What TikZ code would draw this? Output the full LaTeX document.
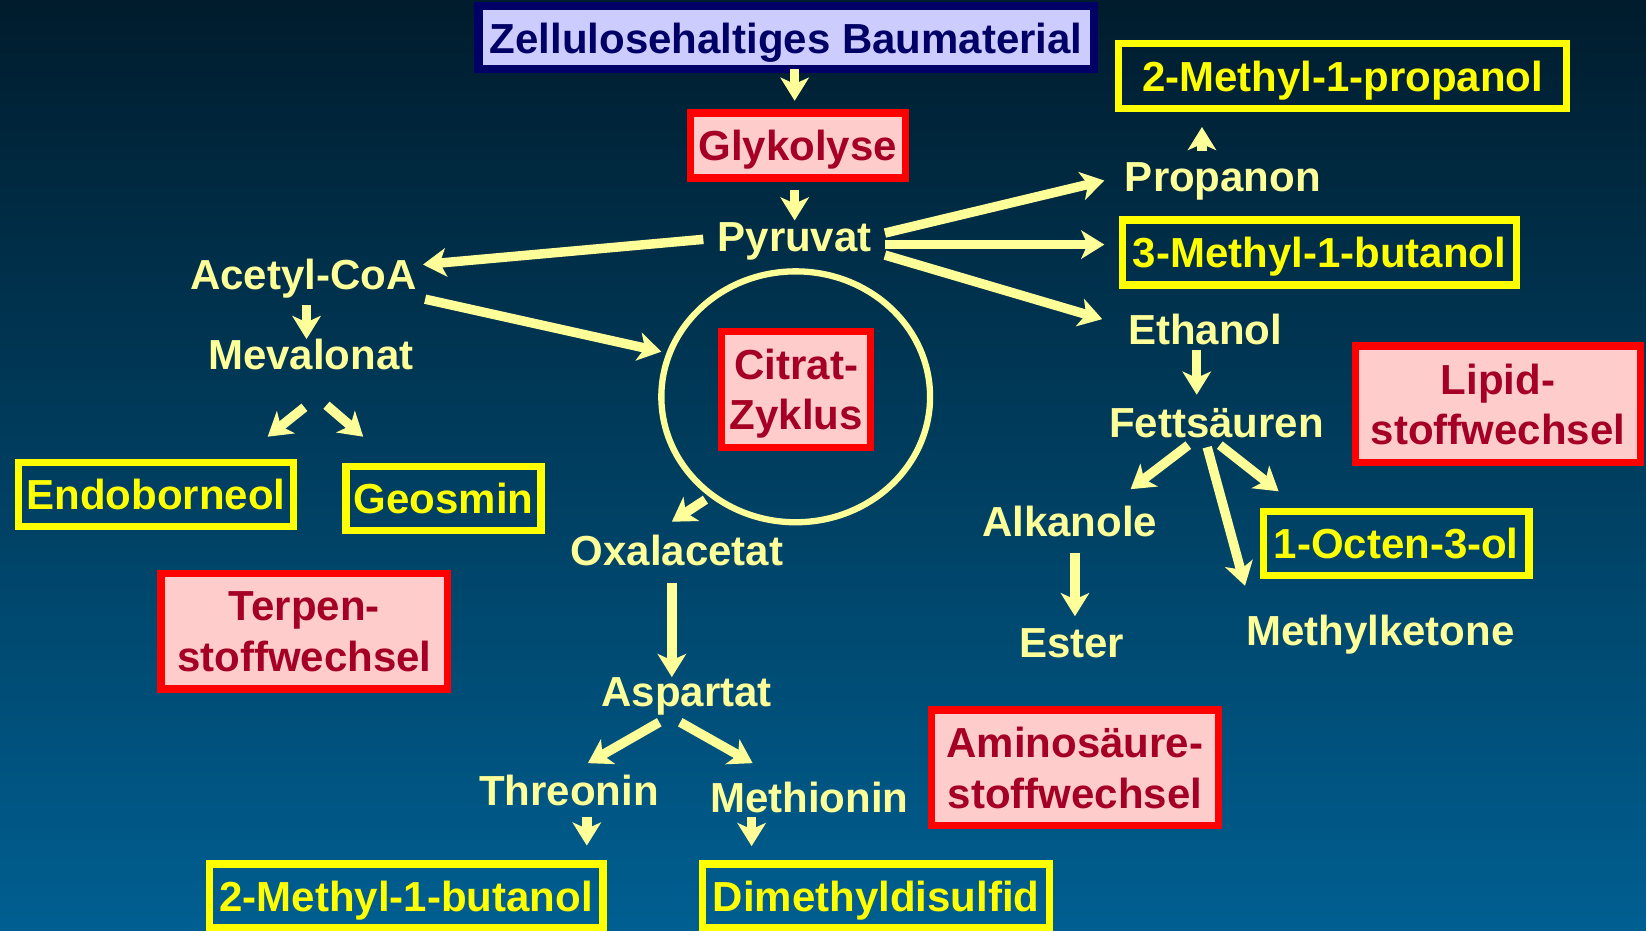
\documentclass[tikz,border=0pt]{standalone}
\usepackage{fontspec}
\setmainfont{Liberation Sans}
\usetikzlibrary{arrows.meta,shapes.geometric}
\definecolor{bgtop}{RGB}{0,28,45}
\definecolor{bgbot}{RGB}{0,95,145}
\definecolor{paley}{RGB}{255,255,153}
\definecolor{yel}{RGB}{255,255,0}
\definecolor{redb}{RGB}{255,0,0}
\definecolor{pinkf}{RGB}{255,204,204}
\definecolor{redt}{RGB}{165,0,35}
\definecolor{navy}{RGB}{0,0,102}
\definecolor{lav}{RGB}{204,204,255}
\begin{document}
\begin{tikzpicture}[x=1pt,y=-1pt,
  every node/.style={font=\fontsize{40}{48}\selectfont\bfseries, inner sep=0pt, outer sep=0pt},
  lbl/.style={text=paley, anchor=base, text height=30pt, text depth=8pt},
  one/.style={text height=29pt, text depth=0pt},
  ybox/.style={draw=yel, line width=7pt, text=yel, align=center},
  rbox/.style={draw=redb, fill=pinkf, line width=7pt, text=redt, align=center, text depth=0pt},
  nbox/.style={draw=navy, fill=lav, line width=8pt, text=navy},
  arr/.style={draw=paley, line width=9pt, -{Stealth[length=22pt,width=27pt,inset=6pt]}},
]
\shade[top color=bgtop, bottom color=bgbot] (0,0) rectangle (1568,886);
\useasboundingbox (0,0) rectangle (1568,886);

\node[nbox, one, minimum width=586pt, minimum height=60pt] (zell) at (749,36) {Zellulosehaltiges Baumaterial};
\node[rbox, one, minimum width=205pt, minimum height=62pt] (gly) at (760,138.5) {Glykolyse};
\node[lbl] (pyr) at (757,240) {Pyruvat};
\node[lbl] (acoa) at (289,276) {Acetyl-CoA};
\node[lbl] (meva) at (296,352) {Mevalonat};
\node[ybox, one, minimum width=262pt, minimum height=61pt] (endo) at (148.5,471) {Endoborneol};
\node[ybox, one, minimum width=186pt, minimum height=61pt] (geos) at (422.5,475) {Geosmin};
\node[rbox, minimum width=273pt, minimum height=110pt] (terp) at (290,601.5) {Terpen-\\stoffwechsel};
\node[draw=paley, line width=6pt, ellipse, minimum width=256pt, minimum height=239pt] (cyc) at (758,378) {};
\node[rbox, minimum width=142pt, minimum height=111pt] (citr) at (758.5,371) {Citrat-\\Zyklus};
\node[lbl] (oxa) at (645,539) {Oxalacetat};
\node[lbl] (asp) at (654,673) {Aspartat};
\node[lbl] (thr) at (542,767) {Threonin};
\node[lbl] (met) at (771,774) {Methionin};
\node[ybox, one, minimum width=375pt, minimum height=61pt] (mbb) at (387,853.5) {2-Methyl-1-butanol};
\node[ybox, one, minimum width=330pt, minimum height=61pt] (dmds) at (834.5,853.5) {Dimethyldisulfid};
\node[rbox, minimum width=273pt, minimum height=110pt] (amin) at (1024,731.5) {Aminosäure-\\stoffwechsel};
\node[ybox, one, minimum width=427pt, minimum height=62pt] (mpp) at (1279,72.5) {2-Methyl-1-propanol};
\node[lbl] (prop) at (1165,182) {Propanon};
\node[ybox, one, minimum width=375pt, minimum height=62pt] (mbt) at (1257,240.5) {3-Methyl-1-butanol};
\node[lbl] (eth) at (1148,328) {Ethanol};
\node[lbl] (fett) at (1159,417) {Fettsäuren};
\node[rbox, minimum width=271pt, minimum height=111pt] (lip) at (1427,385) {Lipid-\\stoffwechsel};
\node[lbl] (alk) at (1019,511) {Alkanole};
\node[ybox, one, minimum width=253pt, minimum height=61pt] (oct) at (1330,518) {1-Octen-3-ol};
\node[lbl] (est) at (1021,626) {Ester};
\node[lbl] (mk) at (1315,615) {Methylketone};

\draw[arr] ([shift={(8,30)}]zell.center) -- ([shift={(-3,-42.5)}]gly.center);
\draw[arr] ([shift={(-3,42.5)}]gly.center) -- ([shift={(0,-19)}]pyr.center);
\draw[arr] ([shift={(-87,-1)}]pyr.center) -- ([shift={(114,-13)}]acoa.center);
\draw[arr] ([shift={(116,20)}]acoa.center) -- ([shift={(-128,-43)}]cyc.center);
\draw[arr] ([shift={(3,26)}]acoa.center) -- ([shift={(-4,-18)}]meva.center);
\draw[arr] ([shift={(-6,47)}]meva.center) -- ([shift={(106.5,-55)}]endo.center);
\draw[arr] ([shift={(15,45)}]meva.center) -- ([shift={(-76.5,-59)}]geos.center);
\draw[arr] ([shift={(86,-7)}]pyr.center) -- ([shift={(-113,1)}]prop.center);
\draw[arr] ([shift={(86,4)}]pyr.center) -- ([shift={(-205,-7.5)}]mbt.center);
\draw[arr] ([shift={(86,14)}]pyr.center) -- ([shift={(-98,-13)}]eth.center);
\draw[arr] ([shift={(-20,-27)}]prop.center) -- ([shift={(-134,48.5)}]mpp.center);
\draw[arr] ([shift={(-8,16)}]eth.center) -- ([shift={(-19,-30)}]fett.center);
\draw[arr] ([shift={(-27,18)}]fett.center) -- ([shift={(58,-34)}]alk.center);
\draw[arr] ([shift={(-9,20)}]fett.center) -- ([shift={(-129,-46)}]mk.center);
\draw[arr] ([shift={(3,18)}]fett.center) -- ([shift={(-112,-50)}]oct.center);
\draw[arr] ([shift={(5,27)}]alk.center) -- ([shift={(3,-28)}]est.center);
\draw[arr] ([shift={(-86,98)}]cyc.center) -- ([shift={(-5,-31)}]oxa.center);
\draw[arr] ([shift={(-5,27)}]oxa.center) -- ([shift={(-14,-17)}]asp.center);
\draw[arr] ([shift={(-26,26)}]asp.center) -- ([shift={(18,-29)}]thr.center);
\draw[arr] ([shift={(-6,26)}]asp.center) -- ([shift={(-54,-36)}]met.center);
\draw[arr] ([shift={(17,22)}]thr.center) -- ([shift={(172,-48)}]mbb.center);
\draw[arr] ([shift={(-55,15)}]met.center) -- ([shift={(-118.5,-47.5)}]dmds.center);
\end{tikzpicture}
\end{document}
